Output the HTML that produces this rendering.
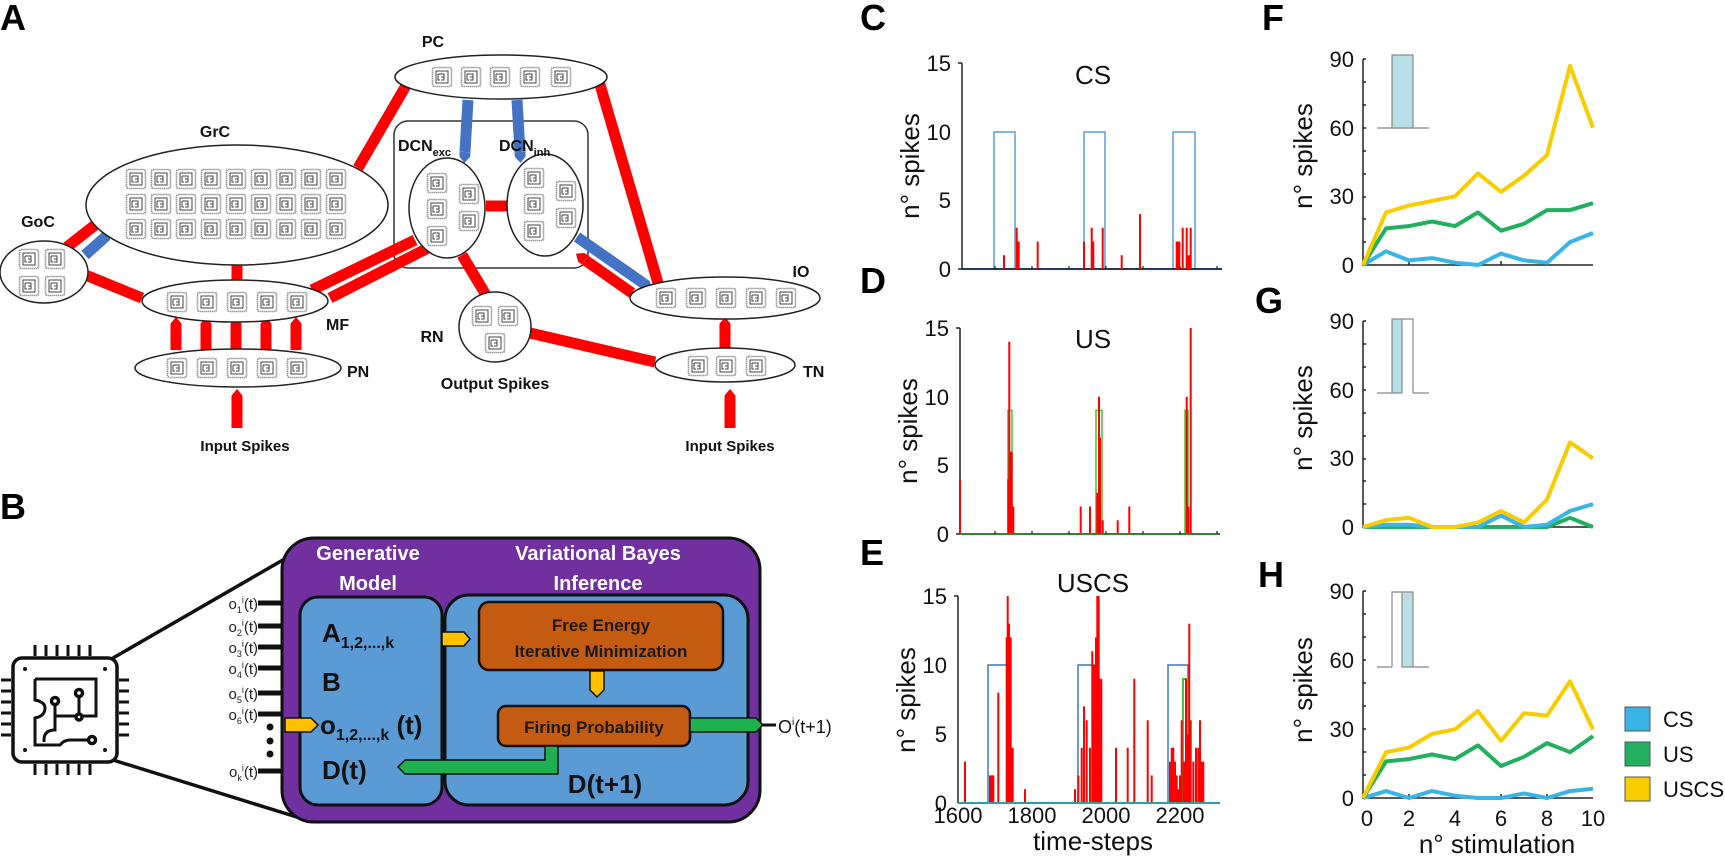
<!DOCTYPE html>
<html><head><meta charset="utf-8"><style>
html,body{margin:0;padding:0;background:#fff;}
svg{display:block;}
.b{font-family:"Liberation Sans",sans-serif;font-weight:bold;}
.n{font-family:"Liberation Sans",sans-serif;}
</style></head><body>
<svg width="1725" height="858" viewBox="0 0 1725 858" xmlns="http://www.w3.org/2000/svg">
<defs>
<symbol id="chip" viewBox="0 0 22 22"><rect x="1.5" y="1.5" width="19" height="19" rx="2" fill="#fff" stroke="#666" stroke-width="1.6" stroke-dasharray="1 1"/><rect x="5" y="5" width="12" height="12" fill="none" stroke="#444" stroke-width="1"/><path d="M7 8h6v6h-3M7 8v6h2M10 11h3" stroke="#444" fill="none" stroke-width="1"/></symbol>
<marker id="mr" viewBox="0 0 10 10" refX="0" refY="5" markerWidth="1" markerHeight="1" orient="auto" markerUnits="strokeWidth"><path d="M0 0H4L10 5L4 10H0z" fill="#f00"/></marker>
<marker id="mb" viewBox="0 0 10 10" refX="0" refY="5" markerWidth="1" markerHeight="1" orient="auto" markerUnits="strokeWidth"><path d="M0 0H4L10 5L4 10H0z" fill="#4472c4"/></marker>
</defs>

<!-- ===== Panel A ===== -->
<text x="0" y="30" class="b" font-size="36">A</text>
<!-- DCN box -->
<rect x="394" y="121" width="194" height="147" rx="14" fill="#fff" stroke="#333" stroke-width="1.5"/>

<!-- arrows -->
<g stroke-width="11" fill="none">
<line x1="358" y1="168" x2="404" y2="89" stroke="#f00" marker-end="url(#mr)"/>
<line x1="658" y1="283" x2="601" y2="88" stroke="#f00" marker-end="url(#mr)"/>
<line x1="468" y1="100" x2="465" y2="152" stroke="#4472c4" marker-end="url(#mb)"/>
<line x1="517" y1="100" x2="520" y2="152" stroke="#4472c4" marker-end="url(#mb)"/>
<line x1="486" y1="206" x2="502" y2="206" stroke="#f00" marker-end="url(#mr)"/>
<line x1="462" y1="255" x2="483" y2="290" stroke="#f00" marker-end="url(#mr)"/>
<line x1="577" y1="237" x2="643" y2="283" stroke="#4472c4" marker-end="url(#mb)"/>
<line x1="632" y1="293" x2="585" y2="260" stroke="#f00" marker-end="url(#mr)"/>
<line x1="530" y1="333" x2="655" y2="362" stroke="#f00"/>
<line x1="725" y1="348" x2="725" y2="328" stroke="#f00" marker-end="url(#mr)"/>
<line x1="730" y1="428" x2="730" y2="400" stroke="#f00" marker-end="url(#mr)"/>
<line x1="237" y1="428" x2="237" y2="400" stroke="#f00" marker-end="url(#mr)"/>
<line x1="237" y1="280" x2="237" y2="260" stroke="#f00" marker-end="url(#mr)"/>
<line x1="176" y1="350" x2="176" y2="328" stroke="#f00" marker-end="url(#mr)"/>
<line x1="206" y1="350" x2="206" y2="328" stroke="#f00" marker-end="url(#mr)"/>
<line x1="236" y1="350" x2="236" y2="328" stroke="#f00" marker-end="url(#mr)"/>
<line x1="266" y1="350" x2="266" y2="328" stroke="#f00" marker-end="url(#mr)"/>
<line x1="296" y1="350" x2="296" y2="328" stroke="#f00" marker-end="url(#mr)"/>
<line x1="142" y1="298" x2="88" y2="276" stroke="#f00" marker-end="url(#mr)"/>
<line x1="67" y1="247" x2="95" y2="225" stroke="#f00"/>
<line x1="85" y1="255" x2="103" y2="239" stroke="#4472c4" marker-end="url(#mb)"/>
<line x1="312" y1="290" x2="415" y2="240" stroke="#f00"/>
<line x1="330" y1="298" x2="428" y2="248" stroke="#f00"/>
</g>

<g fill="#fff" stroke="#222" stroke-width="1.5">
<ellipse cx="237" cy="205" rx="151" ry="60"/>
<ellipse cx="44" cy="272" rx="44" ry="31"/>
<ellipse cx="235" cy="301" rx="93" ry="21"/>
<ellipse cx="238" cy="368" rx="103" ry="19"/>
<ellipse cx="501" cy="77" rx="106" ry="22"/>
<ellipse cx="447" cy="208" rx="38" ry="50"/>
<ellipse cx="545" cy="205" rx="38" ry="51"/>
<ellipse cx="495" cy="327" rx="36" ry="35"/>
<ellipse cx="725" cy="298" rx="95" ry="21"/>
<ellipse cx="725" cy="365" rx="70" ry="17"/>
</g>

<g>
<!-- GrC -->
<use href="#chip" x="125" y="168" width="22" height="22"/><use href="#chip" x="150" y="168" width="22" height="22"/><use href="#chip" x="175" y="168" width="22" height="22"/><use href="#chip" x="200" y="168" width="22" height="22"/><use href="#chip" x="225" y="168" width="22" height="22"/><use href="#chip" x="250" y="168" width="22" height="22"/><use href="#chip" x="275" y="168" width="22" height="22"/><use href="#chip" x="300" y="168" width="22" height="22"/><use href="#chip" x="325" y="168" width="22" height="22"/>
<use href="#chip" x="125" y="193" width="22" height="22"/><use href="#chip" x="150" y="193" width="22" height="22"/><use href="#chip" x="175" y="193" width="22" height="22"/><use href="#chip" x="200" y="193" width="22" height="22"/><use href="#chip" x="225" y="193" width="22" height="22"/><use href="#chip" x="250" y="193" width="22" height="22"/><use href="#chip" x="275" y="193" width="22" height="22"/><use href="#chip" x="300" y="193" width="22" height="22"/><use href="#chip" x="325" y="193" width="22" height="22"/>
<use href="#chip" x="125" y="218" width="22" height="22"/><use href="#chip" x="150" y="218" width="22" height="22"/><use href="#chip" x="175" y="218" width="22" height="22"/><use href="#chip" x="200" y="218" width="22" height="22"/><use href="#chip" x="225" y="218" width="22" height="22"/><use href="#chip" x="250" y="218" width="22" height="22"/><use href="#chip" x="275" y="218" width="22" height="22"/><use href="#chip" x="300" y="218" width="22" height="22"/><use href="#chip" x="325" y="218" width="22" height="22"/>
<!-- GoC -->
<use href="#chip" x="18" y="248" width="22" height="22"/><use href="#chip" x="44" y="248" width="22" height="22"/><use href="#chip" x="18" y="275" width="22" height="22"/><use href="#chip" x="44" y="275" width="22" height="22"/>
<!-- MF / PN -->
<use href="#chip" x="166" y="291" width="22" height="22"/><use href="#chip" x="196" y="291" width="22" height="22"/><use href="#chip" x="226" y="291" width="22" height="22"/><use href="#chip" x="256" y="291" width="22" height="22"/><use href="#chip" x="286" y="291" width="22" height="22"/>
<use href="#chip" x="166" y="357" width="22" height="22"/><use href="#chip" x="196" y="357" width="22" height="22"/><use href="#chip" x="226" y="357" width="22" height="22"/><use href="#chip" x="256" y="357" width="22" height="22"/><use href="#chip" x="286" y="357" width="22" height="22"/>
<!-- PC -->
<use href="#chip" x="431" y="66" width="22" height="22"/><use href="#chip" x="460" y="66" width="22" height="22"/><use href="#chip" x="489" y="66" width="22" height="22"/><use href="#chip" x="519" y="66" width="22" height="22"/><use href="#chip" x="550" y="66" width="22" height="22"/>
<!-- DCN exc -->
<use href="#chip" x="426" y="172" width="22" height="22"/><use href="#chip" x="426" y="198" width="22" height="22"/><use href="#chip" x="426" y="225" width="22" height="22"/><use href="#chip" x="458" y="183" width="22" height="22"/><use href="#chip" x="458" y="210" width="22" height="22"/>
<!-- DCN inh -->
<use href="#chip" x="523" y="167" width="22" height="22"/><use href="#chip" x="523" y="193" width="22" height="22"/><use href="#chip" x="523" y="220" width="22" height="22"/><use href="#chip" x="555" y="180" width="22" height="22"/><use href="#chip" x="555" y="207" width="22" height="22"/>
<!-- RN -->
<use href="#chip" x="471" y="305" width="22" height="22"/><use href="#chip" x="497" y="305" width="22" height="22"/><use href="#chip" x="484" y="332" width="22" height="22"/>
<!-- IO -->
<use href="#chip" x="655" y="287" width="22" height="22"/><use href="#chip" x="685" y="287" width="22" height="22"/><use href="#chip" x="715" y="287" width="22" height="22"/><use href="#chip" x="745" y="287" width="22" height="22"/><use href="#chip" x="775" y="287" width="22" height="22"/>
<!-- TN -->
<use href="#chip" x="687" y="355" width="22" height="22"/><use href="#chip" x="715" y="355" width="22" height="22"/><use href="#chip" x="745" y="355" width="22" height="22"/>
</g>

<g class="b" font-size="16" fill="#111">
<text x="215" y="137" text-anchor="middle">GrC</text>
<text x="38" y="227" text-anchor="middle">GoC</text>
<text x="326" y="330">MF</text>
<text x="347" y="377">PN</text>
<text x="433" y="47" text-anchor="middle">PC</text>
<text x="398" y="151">DCN<tspan font-size="11" dy="5">exc</tspan></text>
<text x="529" y="151" text-anchor="start" dx="-30">DCN<tspan font-size="11" dy="5">inh</tspan></text>
<text x="432" y="342" text-anchor="middle">RN</text>
<text x="495" y="389" text-anchor="middle">Output Spikes</text>
<text x="801" y="277" text-anchor="middle">IO</text>
<text x="803" y="377">TN</text>
<text x="245" y="451" text-anchor="middle" font-size="15">Input Spikes</text>
<text x="730" y="451" text-anchor="middle" font-size="15">Input Spikes</text>
</g>

<!-- ===== Panel B ===== -->
<text x="0" y="519" class="b" font-size="36">B</text>
<!-- chip icon -->
<g stroke="#111" stroke-width="3.5" fill="none">
<line x1="113" y1="658" x2="295" y2="553"/>
<line x1="113" y1="760" x2="300" y2="818"/>
<rect x="13" y="658" width="104" height="104" rx="9" fill="#fff"/>
<path d="M35 645V656M46 645V656M57 645V656M68 645V656M79 645V656M90 645V656M35 764V775M46 764V775M57 764V775M68 764V775M79 764V775M90 764V775M1 680H11M1 691H11M1 702H11M1 713H11M1 724H11M1 735H11M119 680H129M119 691H129M119 702H129M119 713H129M119 724H129M119 735H129" stroke-width="3"/>
<path d="M35 679H96V716H55V730Q44 730 44 740V742M35 679V700Q45 702 45 708Q45 716 35 718V745H60Q64 740 70 740H90" stroke-width="3"/>
<path d="M55 701V716M79 694V716L79 716" stroke-width="3"/>
<circle cx="55" cy="701" r="3.5" fill="#fff"/><circle cx="79" cy="693" r="3.5" fill="#fff"/><circle cx="79" cy="717" r="3" fill="#fff"/><circle cx="92" cy="740" r="3.5" fill="#fff"/>
</g>
<g fill="#111"><circle cx="25" cy="669" r="2"/><circle cx="105" cy="669" r="2"/><circle cx="25" cy="750" r="2"/><circle cx="105" cy="750" r="2"/></g>

<rect x="282" y="538" width="478" height="284" rx="32" fill="#7030a0" stroke="#111" stroke-width="3"/>
<rect x="300" y="597" width="142" height="208" rx="18" fill="#5b9bd5" stroke="#111" stroke-width="3"/>
<rect x="445" y="595" width="303" height="210" rx="24" fill="#5b9bd5" stroke="#111" stroke-width="3"/>
<g class="b" fill="#fff" font-size="20" text-anchor="middle">
<text x="368" y="560">Generative</text><text x="368" y="590">Model</text>
<text x="598" y="560">Variational Bayes</text><text x="598" y="590">Inference</text>
</g>
<rect x="479" y="602" width="244" height="68" rx="10" fill="#c55a11" stroke="#111" stroke-width="2.5"/>
<rect x="498" y="706" width="192" height="40" rx="8" fill="#c55a11" stroke="#111" stroke-width="2.5"/>
<g class="b" fill="#1a1a1a" font-size="17" text-anchor="middle">
<text x="601" y="631">Free Energy</text><text x="601" y="657">Iterative Minimization</text>
<text x="594" y="733">Firing Probability</text>
</g>
<!-- arrows B -->
<path d="M442 632H464L470 639L464 646H442Z" fill="#ffc000" stroke="#111" stroke-width="1.5"/>
<path d="M590 671V690L597 697L604 690V671Z" fill="#ffc000" stroke="#111" stroke-width="1.5"/>
<path d="M285 718H311L318 725L311 732H285Z" fill="#ffc000" stroke="#111" stroke-width="1.5"/>
<path d="M690 718H756L763 725L756 732H690Z" fill="#1fb050" stroke="#111" stroke-width="1.5"/>
<line x1="762" y1="725" x2="776" y2="725" stroke="#111" stroke-width="3"/>
<path d="M545 746V760H405L398 767L405 774H558V746Z" fill="#1fb050" stroke="#111" stroke-width="1.5"/>
<text x="778" y="733" class="n" font-size="18" fill="#111">O<tspan font-size="10" dy="-8">i</tspan><tspan dy="8">(t+1)</tspan></text>
<g class="b" fill="#111">
<text x="322" y="642" font-size="26">A<tspan font-size="16" dy="6">1,2,...,k</tspan></text>
<text x="322" y="691" font-size="26">B</text>
<text x="320" y="734" font-size="26">o<tspan font-size="16" dy="6">1,2,...,k</tspan><tspan dy="-6"> (t)</tspan></text>
<text x="322" y="779" font-size="26">D(t)</text>
<text x="605" y="793" font-size="26" text-anchor="middle">D(t+1)</text>
</g>
<!-- input stubs -->
<g stroke="#111" stroke-width="5"><line x1="258" y1="603" x2="283" y2="603"/><line x1="258" y1="626" x2="283" y2="626"/><line x1="258" y1="647" x2="283" y2="647"/><line x1="258" y1="668" x2="283" y2="668"/><line x1="258" y1="693" x2="283" y2="693"/><line x1="258" y1="714" x2="283" y2="714"/><line x1="258" y1="771" x2="283" y2="771"/></g>
<g fill="#111"><circle cx="270" cy="727" r="3.5"/><circle cx="270" cy="741" r="3.5"/><circle cx="270" cy="754" r="3.5"/></g>
<g class="n" font-size="15" fill="#222" text-anchor="end">
<text x="258" y="609">o<tspan font-size="9" dy="4">1</tspan><tspan font-size="9" dy="-10">i</tspan><tspan dy="6">(t)</tspan></text>
<text x="258" y="632">o<tspan font-size="9" dy="4">2</tspan><tspan font-size="9" dy="-10">i</tspan><tspan dy="6">(t)</tspan></text>
<text x="258" y="653">o<tspan font-size="9" dy="4">3</tspan><tspan font-size="9" dy="-10">i</tspan><tspan dy="6">(t)</tspan></text>
<text x="258" y="674">o<tspan font-size="9" dy="4">4</tspan><tspan font-size="9" dy="-10">i</tspan><tspan dy="6">(t)</tspan></text>
<text x="258" y="699">o<tspan font-size="9" dy="4">5</tspan><tspan font-size="9" dy="-10">i</tspan><tspan dy="6">(t)</tspan></text>
<text x="258" y="720">o<tspan font-size="9" dy="4">6</tspan><tspan font-size="9" dy="-10">i</tspan><tspan dy="6">(t)</tspan></text>
<text x="258" y="777">o<tspan font-size="9" dy="4">k</tspan><tspan font-size="9" dy="-10">i</tspan><tspan dy="6">(t)</tspan></text>
</g>

<!-- ===== Panels C D E ===== -->
<g class="b" font-size="36" fill="#000">
<text x="860" y="30">C</text><text x="860" y="293">D</text><text x="860" y="565">E</text>
<text x="1262" y="30">F</text><text x="1255" y="313">G</text><text x="1258" y="587">H</text>
</g>
<g class="n" font-size="22" fill="#111" text-anchor="end">
<text x="951" y="71">15</text><text x="951" y="140">10</text><text x="951" y="208">5</text><text x="951" y="277">0</text>
<text x="949" y="336">15</text><text x="949" y="405">10</text><text x="949" y="473">5</text><text x="949" y="542">0</text>
<text x="947" y="604">15</text><text x="947" y="673">10</text><text x="947" y="742">5</text><text x="947" y="811">0</text>
</g>
<g class="n" font-size="26" fill="#111" text-anchor="middle">
<text x="1093" y="84">CS</text><text x="1093" y="348">US</text><text x="1093" y="592">USCS</text>
<text transform="translate(919,166) rotate(-90)">n° spikes</text>
<text transform="translate(917,431) rotate(-90)">n° spikes</text>
<text transform="translate(915,700) rotate(-90)">n° spikes</text>
<text x="1093" y="850">time-steps</text>
</g>
<g class="n" font-size="22" fill="#111" text-anchor="middle">
<text x="958" y="823">1600</text><text x="1032" y="823">1800</text><text x="1106" y="823">2000</text><text x="1180" y="823">2200</text>
</g>
<!-- axes -->
<g stroke="#222" stroke-width="1.5" fill="none">
<path d="M962 63V269M960 328V534M958 596V803"/>
<path d="M958 63H962M958 269H962M956 328H960M956 534H960M954 596H958"/>
</g>
<!-- C -->
<path d="M962 269H994V132H1015V269H1084V132H1105V269H1173V132H1195V269H1222" stroke="#5b9bd5" stroke-width="1.5" fill="none"/>
<path d="M962 269H1222" stroke="#1f3b5a" stroke-width="2"/>
<path d="M1004 269V255.3M1016.7 269V227.8M1018.7 269V241.5M1037.7 269V241.5M1084 269V241.5M1091.7 269V227.8M1093.3 269V241.5M1102.7 269V227.8M1121.7 269V255.3M1140 269V214.1M1176.7 269V241.5M1178.3 269V241.5M1179.3 269V241.5M1182.7 269V227.8M1186.7 269V227.8M1188.7 269V255.3M1190.7 269V227.8" stroke="#f00" stroke-width="2"/>
<!-- D -->
<path d="M960 534H1008V410.4H1012V534H1096V410.4H1102V534H1185V410.4H1188V534H1220" stroke="#39c839" stroke-width="1.5" fill="none"/>
<path d="M960 534V479.1M1008.3 534V479.1M1009.3 534V341.7M1010.3 534V451.6M1011.7 534V451.6M1013.3 534V506.5M1080.7 534V506.5M1090 534V506.5M1097.3 534V492.8M1099 534V396.7M1100 534V437.9M1102.7 534V520.3M1117.7 534V520.3M1129.3 534V506.5M1186.7 534V396.7M1188.3 534V506.5M1190.7 534V328" stroke="#f00" stroke-width="2"/>
<path d="M960 534H1220" stroke="#2a8a2a" stroke-width="2"/>
<!-- E -->
<path d="M958 803H988V665H1008V803H1078V665H1097V803H1168V665H1188V803" stroke="#3a78c0" stroke-width="1.5" fill="none"/>
<path d="M1183 803V679H1188V803" stroke="#39c839" stroke-width="2" fill="none"/>
<path d="M965 803V761.6M990 803V775.4M991.7 803V775.4M993.3 803V775.4M998.3 803V692.6M1006.7 803V637.4M1007.7 803V596M1009 803V623.6M1010.7 803V637.4M1012.7 803V747.8M1025 803V789.2M1075 803V789.2M1078.3 803V775.4M1081.7 803V747.8M1084 803V706.4M1086.7 803V720.2M1090 803V747.8M1092.3 803V651.2M1094.3 803V665M1096 803V637.4M1097.3 803V596M1098.7 803V596M1100 803V678.8M1101.3 803V678.8M1116 803V747.8M1127.7 803V747.8M1134.3 803V678.8M1147.7 803V720.2M1151.7 803V775.4M1170 803V761.6M1171.7 803V747.8M1173.3 803V747.8M1175 803V761.6M1176.7 803V775.4M1178.3 803V789.2M1180 803V775.4M1181.7 803V720.2M1184 803V761.6M1186 803V678.8M1187.3 803V734M1189.3 803V623.6M1190.7 803V720.2M1193.3 803V761.6M1196 803V747.8M1198.3 803V747.8M1200 803V720.2M1201.7 803V761.6M1203.3 803V761.6" stroke="#f00" stroke-width="2"/>
<path d="M958 803H1220" stroke="#2aa0a0" stroke-width="2"/>
<!-- small x ticks -->
<path d="M995 269v-3M1032 269v-3M1069 269v-3M1106 269v-3M1143 269v-3M1180 269v-3M1217 269v-3M995 534v-3M1032 534v-3M1069 534v-3M1106 534v-3M1143 534v-3M1180 534v-3M1217 534v-3" stroke="#222" stroke-width="1.2"/>

<!-- ===== Panels F G H ===== -->
<g stroke="#222" stroke-width="1.5" fill="none">
<path d="M1363 59V265H1593M1363 321V527H1593M1363 591V798H1593"/>
<path d="M1363 59h3M1363 82h3M1363 105h3M1363 128h3M1363 151h3M1363 174h3M1363 197h3M1363 219h3M1363 242h3M1363 321h3M1363 344h3M1363 367h3M1363 390h3M1363 413h3M1363 436h3M1363 459h3M1363 481h3M1363 504h3M1363 591h3M1363 614h3M1363 637h3M1363 660h3M1363 683h3M1363 706h3M1363 729h3M1363 752h3M1363 775h3M1409 265v-4M1501 265v-4M1409 798v-4M1455 798v-4M1501 798v-4M1547 798v-4"/>
</g>
<g class="n" font-size="22" fill="#111" text-anchor="end">
<text x="1354" y="67">90</text><text x="1354" y="136">60</text><text x="1354" y="204">30</text><text x="1354" y="273">0</text>
<text x="1354" y="329">90</text><text x="1354" y="398">60</text><text x="1354" y="466">30</text><text x="1354" y="535">0</text>
<text x="1354" y="599">90</text><text x="1354" y="668">60</text><text x="1354" y="737">30</text><text x="1354" y="806">0</text>
</g>
<g class="n" font-size="26" fill="#111" text-anchor="middle">
<text transform="translate(1312,156) rotate(-90)">n° spikes</text>
<text transform="translate(1312,418) rotate(-90)">n° spikes</text>
<text transform="translate(1312,690) rotate(-90)">n° spikes</text>
<text x="1497" y="853">n° stimulation</text>
</g>
<g class="n" font-size="22" fill="#111" text-anchor="middle">
<text x="1367" y="826">0</text><text x="1409" y="826">2</text><text x="1455" y="826">4</text><text x="1501" y="826">6</text><text x="1547" y="826">8</text><text x="1593" y="826">10</text>
</g>
<!-- insets -->
<g stroke="#888" stroke-width="1.2">
<path d="M1377 128H1429"/><rect x="1392" y="55" width="21" height="73" fill="#b7e0e6"/>
<path d="M1377 393H1392M1413 393H1429"/><rect x="1392" y="319" width="10" height="74" fill="#b7e0e6"/><path d="M1402 319H1413V393" fill="none"/>
<path d="M1377 667H1392M1413 667H1429"/><path d="M1392 667V592H1402" fill="none"/><rect x="1402" y="592" width="11" height="75" fill="#b7e0e6"/>
</g>
<!-- lines -->
<g fill="none" stroke-width="4" stroke-linejoin="round">
<polyline stroke="#3ab4e6" points="1363,265 1386,251.3 1409,260.4 1432,258.1 1455,262.7 1478,265 1501,253.6 1524,260.4 1547,262.7 1570,242.1 1593,233"/>
<polyline stroke="#22b05e" points="1363,265 1386,228.4 1409,226.1 1432,221.5 1455,226.1 1478,212.4 1501,230.7 1524,223.8 1547,210.1 1570,210.1 1593,203.2"/>
<polyline stroke="#f7cd00" points="1363,265 1386,212.4 1409,205.5 1432,200.9 1455,196.3 1478,173.4 1501,191.8 1524,175.7 1547,155.1 1570,65.9 1593,127.7"/>
<polyline stroke="#22b05e" points="1363,527 1386,527 1409,527 1432,527 1455,527 1478,527 1501,527 1524,527 1547,527 1570,517.8 1593,527"/>
<polyline stroke="#3ab4e6" points="1363,527 1386,524.7 1409,524.7 1432,527 1455,527 1478,527 1501,515.6 1524,527 1547,524.7 1570,511 1593,504.1"/>
<polyline stroke="#f7cd00" points="1363,527 1386,520.1 1409,517.8 1432,527 1455,527 1478,522.4 1501,511 1524,522.4 1547,499.5 1570,442.3 1593,458.3"/>
<polyline stroke="#3ab4e6" points="1363,798 1386,791.1 1409,798 1432,791.1 1455,795.7 1478,798 1501,798 1524,793.4 1547,798 1570,791.1 1593,788.8"/>
<polyline stroke="#22b05e" points="1363,798 1386,761.4 1409,759.1 1432,754.5 1455,759.1 1478,745.4 1501,766 1524,756.8 1547,743.1 1570,752.2 1593,736.2"/>
<polyline stroke="#f7cd00" points="1363,798 1386,752.2 1409,747.6 1432,733.9 1455,729.3 1478,711 1501,740.8 1524,713.3 1547,715.6 1570,681.3 1593,729.3"/>
</g>
<!-- legend -->
<g stroke="#555" stroke-width="1">
<rect x="1625" y="707" width="25" height="24" fill="#3ab4e6"/>
<rect x="1625" y="742" width="25" height="24" fill="#22b05e"/>
<rect x="1625" y="777" width="25" height="24" fill="#f7cd00"/>
</g>
<g class="n" font-size="22" fill="#111">
<text x="1663" y="727">CS</text><text x="1663" y="762">US</text><text x="1663" y="797">USCS</text>
</g>
</svg>
</body></html>
